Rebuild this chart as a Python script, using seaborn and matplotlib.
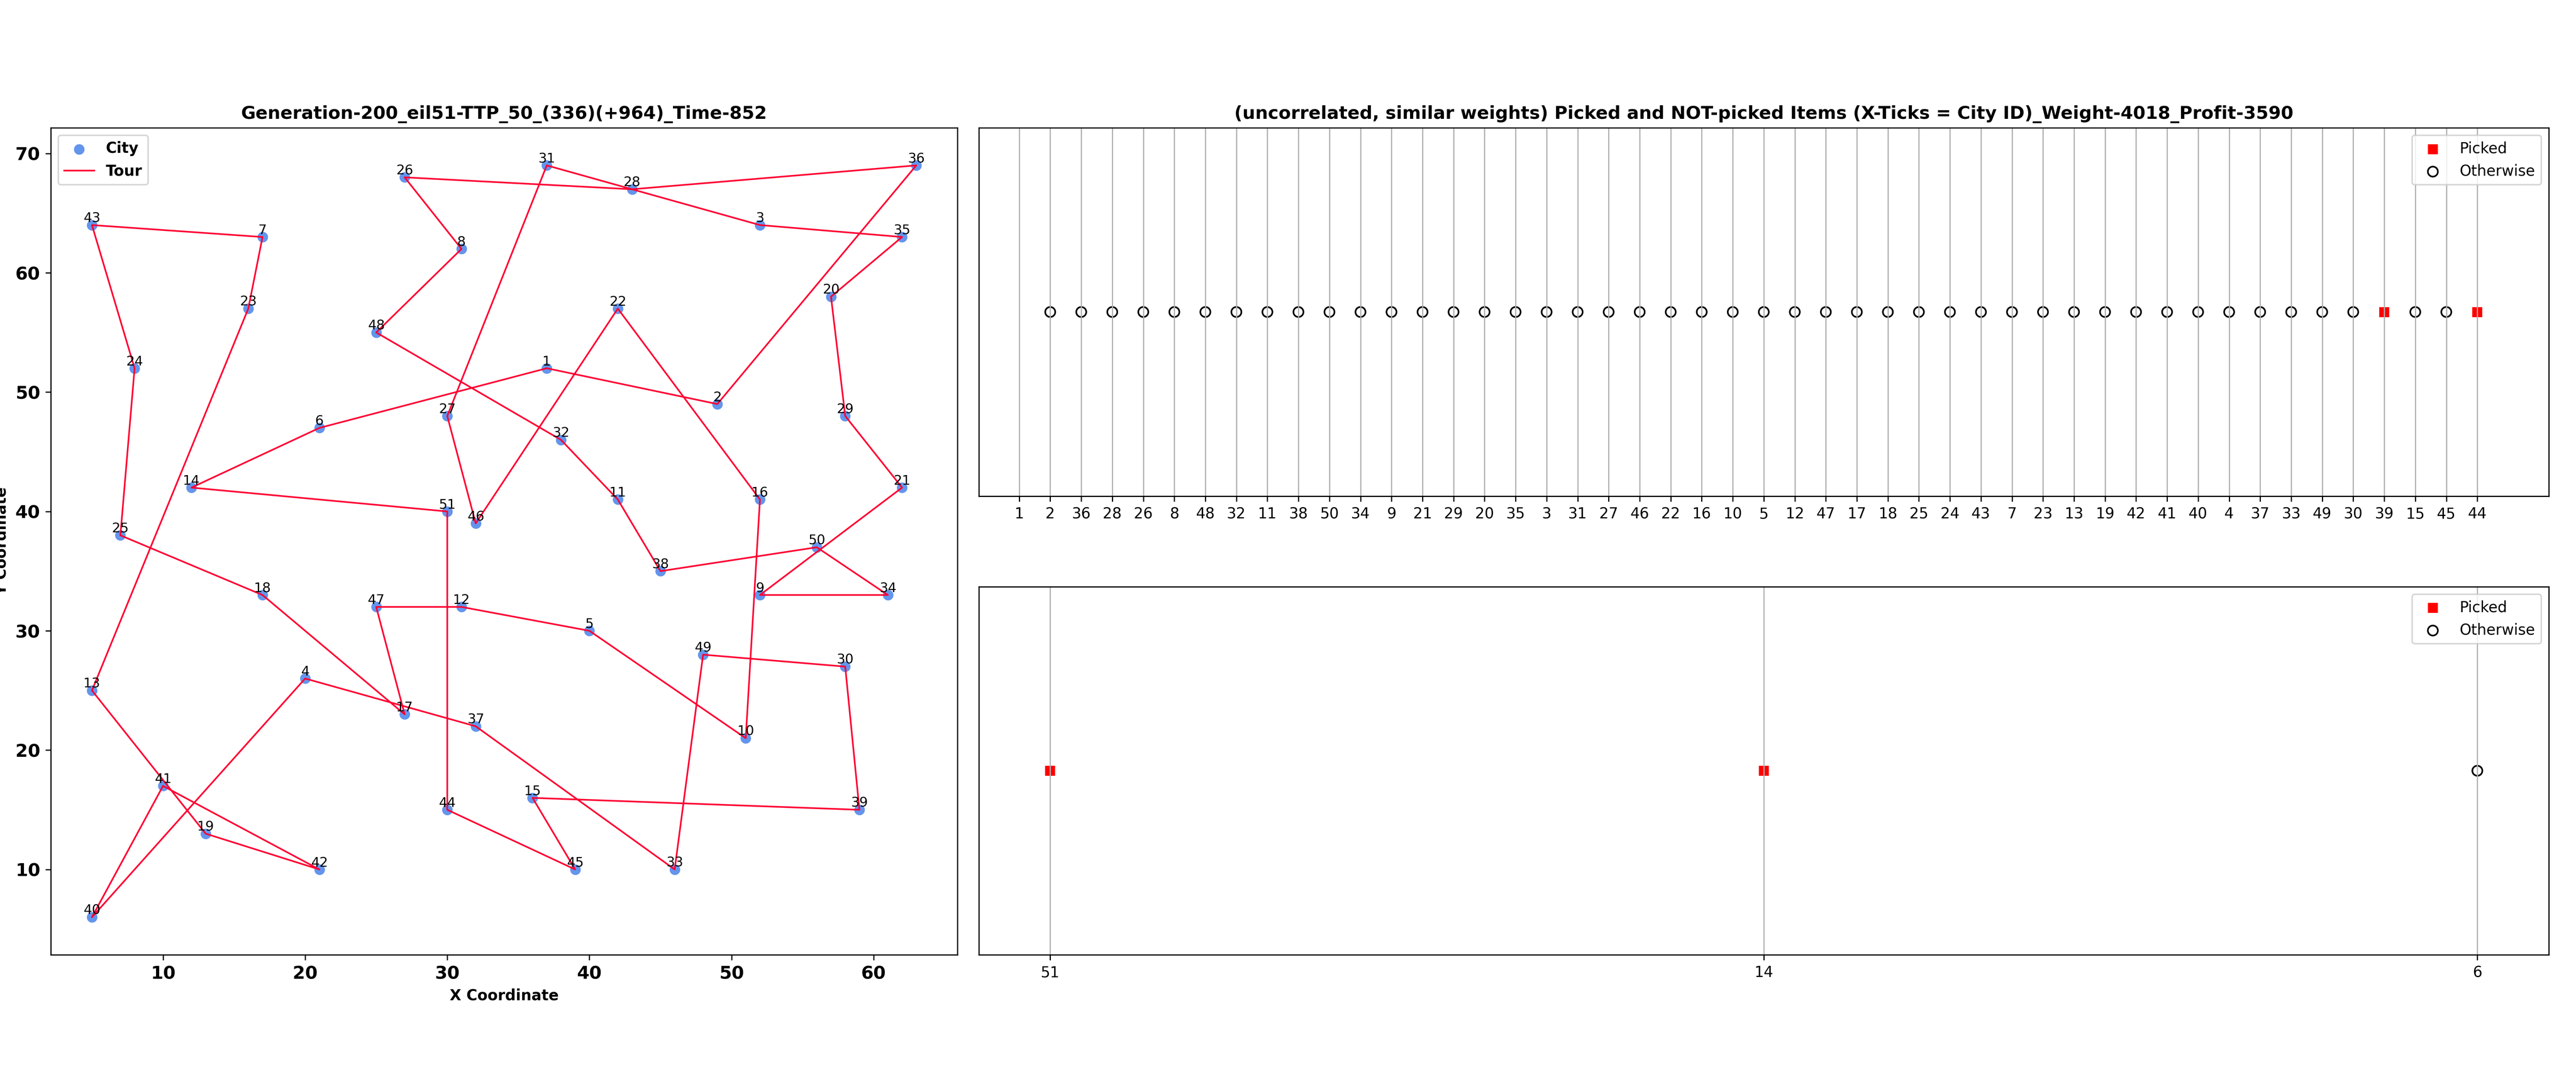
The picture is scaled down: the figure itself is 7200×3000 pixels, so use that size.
import numpy as np
import pandas as pd
import matplotlib
matplotlib.use("Agg")
import matplotlib.pyplot as plt
import seaborn as sns

# eil51 city coordinates (city id = index + 1)
city_x = [37, 49, 52, 20, 40, 21, 17, 31, 52, 51, 42, 31, 5, 12, 36, 52, 27, 17, 13, 57,
          62, 42, 16, 8, 7, 27, 30, 43, 58, 58, 37, 38, 46, 61, 62, 63, 32, 45, 59, 5,
          10, 21, 5, 30, 39, 32, 25, 25, 48, 56, 30]
city_y = [52, 49, 64, 26, 30, 47, 63, 62, 33, 21, 41, 32, 25, 42, 16, 41, 23, 33, 13, 58,
          42, 57, 57, 52, 38, 68, 48, 67, 48, 27, 69, 46, 10, 33, 63, 69, 22, 35, 15, 6,
          17, 10, 64, 15, 10, 39, 32, 55, 28, 37, 40]

tour = [1, 2, 36, 28, 26, 8, 48, 32, 11, 38, 50, 34, 9, 21, 29, 20, 35, 3, 31, 27,
        46, 22, 16, 10, 5, 12, 47, 17, 18, 25, 24, 43, 7, 23, 13, 19, 42, 41, 40, 4,
        37, 33, 49, 30, 39, 15, 45, 44, 51, 14, 6]

# items panel (top): tick labels follow the tour, city 1 has no item
top_ticks = tour[:48]
top_picked = [0] * 47
top_picked[43] = 1   # city 39
top_picked[46] = 1   # city 44

# items panel (bottom)
bottom_ticks = [51, 14, 6]
bottom_picked = [1, 1, 0]

title_left = "Generation-200_eil51-TTP_50_(336)(+964)_Time-852"
title_right = ("(uncorrelated, similar weights) Picked and NOT-picked Items "
               "(X-Ticks = City ID)_Weight-4018_Profit-3590")

CITY_COLOR = "#6495ed"
TOUR_COLOR = "#ff0033"


def draw_tour(ax):
    cities = pd.DataFrame({"id": range(1, 52), "x": city_x, "y": city_y})
    order = tour + [tour[0]]
    path = cities.set_index("id").loc[order].reset_index()

    sns.scatterplot(data=cities, x="x", y="y", color=CITY_COLOR, s=50,
                    linewidth=0, label="City", ax=ax, zorder=2)
    sns.lineplot(data=path, x="x", y="y", sort=False, estimator=None,
                 color=TOUR_COLOR, lw=1.1, label="Tour", ax=ax, zorder=3)
    for cid, cx, cy in zip(cities["id"], cities["x"], cities["y"]):
        ax.text(cx, cy, str(cid), fontsize=9, ha="center", va="bottom", zorder=4)

    ax.set_title(title_left, fontsize=12, fontweight="bold")
    ax.set_xlabel("X Coordinate", fontsize=10, fontweight="bold")
    ax.set_ylabel("Y Coordinate", fontsize=10, fontweight="bold")
    ax.tick_params(labelsize=12)
    for lab in ax.get_xticklabels() + ax.get_yticklabels():
        lab.set_fontweight("bold")
    ax.legend(loc="upper left", prop={"weight": "bold", "size": 10})


def draw_items(ax, ticks, picked, pos0, title=None):
    pos = np.arange(pos0, pos0 + len(picked))
    flags = np.array(picked, dtype=bool)
    yy = np.zeros(len(picked))
    sns.scatterplot(x=pos[flags], y=yy[flags], marker="s", color="red", s=45,
                    linewidth=0, label="Picked", ax=ax)
    sns.scatterplot(x=pos[~flags], y=yy[~flags], marker="o", facecolor="none",
                    edgecolor="black", s=45, linewidth=1.1, label="Otherwise", ax=ax)
    ax.set_xticks(range(len(ticks)))
    ax.set_xticklabels([str(t) for t in ticks], fontsize=10)
    ax.set_yticks([])
    ax.set_xlabel("")
    ax.set_ylabel("")
    ax.grid(axis="x")
    ax.legend(loc="upper right", fontsize=10)
    if title:
        ax.set_title(title, fontsize=12, fontweight="bold")


fig = plt.figure(figsize=(24, 10), dpi=300)
ax_tour = fig.add_axes([0.0197, 0.111, 0.352, 0.770])
ax_top = fig.add_axes([0.380, 0.538, 0.6094, 0.343])
ax_bot = fig.add_axes([0.380, 0.111, 0.6094, 0.3427])

draw_tour(ax_tour)
draw_items(ax_top, top_ticks, top_picked, 1, title_right)
draw_items(ax_bot, bottom_ticks, bottom_picked, 0)

fig.savefig("out.png", dpi=300)
